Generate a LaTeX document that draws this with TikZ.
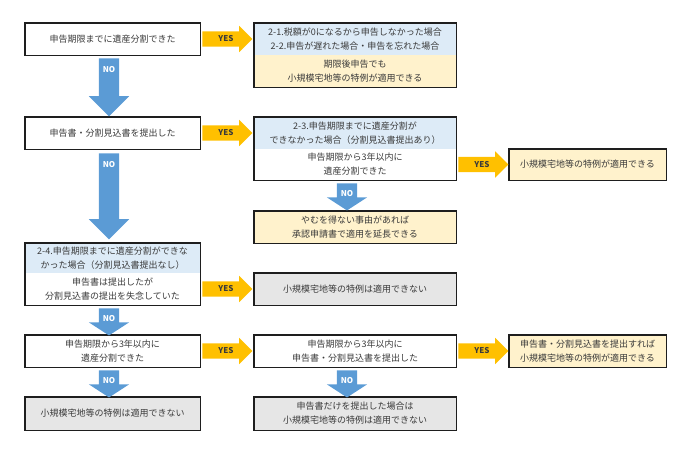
\documentclass[tikz,border=0pt]{standalone}
\usepackage{fontspec}
\setmainfont{Noto Sans CJK JP}
\usetikzlibrary{shapes.arrows,calc}
\definecolor{bluefill}{HTML}{DDEBF7}
\definecolor{yellowfill}{HTML}{FFF2CC}
\definecolor{grayfill}{HTML}{E6E6E6}
\definecolor{orangec}{HTML}{FFC000}
\definecolor{bluearrow}{HTML}{5B9BD5}
\definecolor{textc}{HTML}{3A3A3A}
\definecolor{framec}{HTML}{1E1E1E}
\begin{document}
\begin{tikzpicture}[x=1pt,y=-1pt,
  txt/.style={font=\fontsize{9}{14}\selectfont, text=textc, align=center, inner sep=1pt},
  colA/.style={txt, minimum width=175pt},
  colB/.style={txt, minimum width=202pt},
  colC/.style={txt, minimum width=157pt},
  frame/.style={draw=framec, line width=1.4pt},
  yesarrow/.style={single arrow, fill=orangec, draw=none, inner sep=7.5pt,
    single arrow head extend=5.5pt, single arrow tip angle=90,
    minimum height=50pt, anchor=tail},
  bignoarrow/.style={single arrow, fill=bluearrow, draw=none, shape border rotate=270,
    inner sep=10pt, single arrow head extend=10pt, single arrow tip angle=90,
    anchor=tail},
  smallnoarrow/.style={bignoarrow, single arrow tip angle=114, minimum height=26pt},
  yeslbl/.style={font=\fontsize{8}{8}\selectfont\bfseries, text=textc, inner sep=0pt},
  nolbl/.style={font=\fontsize{8}{8}\selectfont\bfseries, text=white, inner sep=0pt}
]
\useasboundingbox (0,0) rectangle (698,456);

% ---- boxes ----
\node[colA, fill=white, minimum height=32pt] (a1) at (112.5,39) {申告期限までに遺産分割できた};
\draw[frame] (a1.north west) rectangle (a1.south east);

\node[colB, fill=bluefill, minimum height=32pt] (b1t) at (355,39) {2-1.税額が0になるから申告しなかった場合\\2-2.申告が遅れた場合・申告を忘れた場合};
\node[colB, fill=yellowfill, minimum height=32pt] (b1b) at (355,71) {期限後申告でも\\小規模宅地等の特例が適用できる};
\draw[frame] (b1t.north west) rectangle (b1b.south east);

\node[colA, fill=white, minimum height=32pt] (a2) at (112.5,133) {申告書・分割見込書を提出した};
\draw[frame] (a2.north west) rectangle (a2.south east);

\node[colB, fill=bluefill, minimum height=32pt] (b2t) at (355,133) {2-3.申告期限までに遺産分割が\\できなかった場合（分割見込書提出あり）};
\node[colB, fill=white, minimum height=31pt] (b2b) at (355,164.5) {申告期限から3年以内に\\遺産分割できた};
\draw[frame] (b2t.north west) rectangle (b2b.south east);

\node[colC, fill=yellowfill, minimum height=31pt] (c2) at (587.5,164.5) {小規模宅地等の特例が適用できる};
\draw[frame] (c2.north west) rectangle (c2.south east);

\node[colB, fill=yellowfill, minimum height=32pt] (b3) at (355,227) {やむを得ない事由があれば\\承認申請書で適用を延長できる};
\draw[frame] (b3.north west) rectangle (b3.south east);

\node[colA, fill=bluefill, minimum height=30pt] (a3t) at (112.5,258) {2-4.申告期限までに遺産分割ができな\\かった場合（分割見込書提出なし）};
\node[colA, fill=white, minimum height=32pt] (a3b) at (112.5,289) {申告書は提出したが\\分割見込書の提出を失念していた};
\draw[frame] (a3t.north west) rectangle (a3b.south east);

\node[colB, fill=grayfill, minimum height=32pt] (b4) at (355,289) {小規模宅地等の特例は適用できない};
\draw[frame] (b4.north west) rectangle (b4.south east);

\node[colA, fill=white, minimum height=32pt] (a4) at (112.5,351) {申告期限から3年以内に\\遺産分割できた};
\draw[frame] (a4.north west) rectangle (a4.south east);

\node[colB, fill=white, minimum height=32pt] (b5) at (355,351) {申告期限から3年以内に\\申告書・分割見込書を提出した};
\draw[frame] (b5.north west) rectangle (b5.south east);

\node[colC, fill=yellowfill, minimum height=32pt] (c5) at (587.5,351) {申告書・分割見込書を提出すれば\\小規模宅地等の特例が適用できる};
\draw[frame] (c5.north west) rectangle (c5.south east);

\node[colA, fill=grayfill, minimum height=33pt] (a5) at (112.5,413.5) {小規模宅地等の特例は適用できない};
\draw[frame] (a5.north west) rectangle (a5.south east);

\node[colB, fill=grayfill, minimum height=33pt] (b6) at (355,413.5) {申告書だけを提出した場合は\\小規模宅地等の特例は適用できない};
\draw[frame] (b6.north west) rectangle (b6.south east);

% ---- YES arrows ----
\node[yesarrow] (y1) at ($(a1.east)+(2,0)$) {};
\node[yesarrow] (y2) at ($(a2.east)+(2,0)$) {};
\node[yesarrow] (y3) at ($(b2b.east)+(2,0)$) {};
\node[yesarrow] (y4) at ($(a3b.east)+(2,0)$) {};
\node[yesarrow] (y5) at ($(a4.east)+(2,0)$) {};
\node[yesarrow] (y6) at ($(b5.east)+(2,0)$) {};
\foreach \n in {y1,y2,y3,y4,y5,y6}
  \node[yeslbl] (\n lbl) at ($(\n.tail)!0.47!(\n.tip)$) {YES};

% ---- NO arrows ----
\node[bignoarrow, minimum height=58pt] (n1) at ($(a1.south)+(-3.5,3)$) {};
\node[bignoarrow, minimum height=86pt] (n2) at ($(a2.south)+(-3.5,4)$) {};
\node[smallnoarrow] (n3) at ($(b2b.south)+(-8,3)$) {};
\node[smallnoarrow] (n4) at ($(a3b.south)+(-3.5,3)$) {};
\node[smallnoarrow] (n5) at ($(a4.south)+(-3.5,3)$) {};
\node[smallnoarrow] (n6) at ($(b5.south)+(-8,3)$) {};
\foreach \n in {n1,n2}
  \node[nolbl] (\n lbl) at ($(\n.tail)+(0,11)$) {NO};
\foreach \n in {n3,n4,n5,n6}
  \node[nolbl] (\n lbl) at ($(\n.tail)+(0,10)$) {NO};
\end{tikzpicture}
\end{document}
